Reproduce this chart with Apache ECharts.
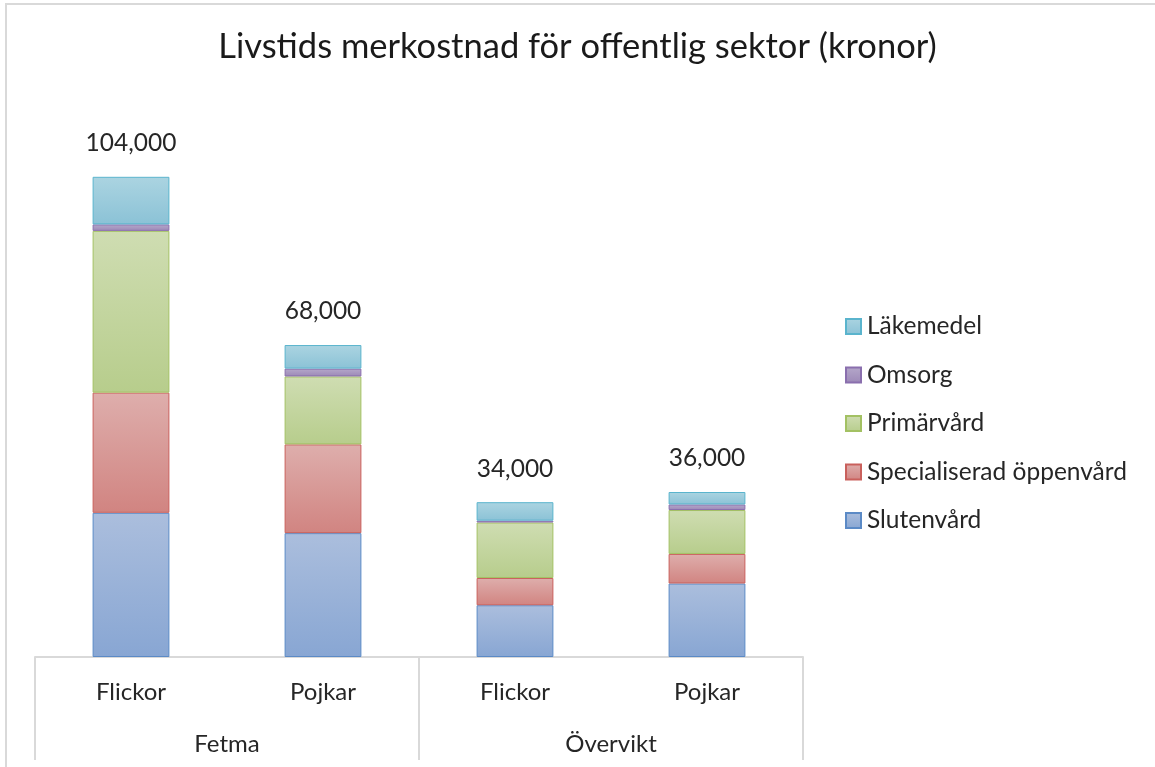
<!DOCTYPE html>
<html>
<head>
<meta charset="utf-8">
<script src="https://cdn.jsdelivr.net/npm/echarts@6/dist/echarts.min.js"></script>
<style>
html,body{margin:0;padding:0;background:#fff;}
#chart{width:1155px;height:767px;position:absolute;left:0;top:0;}
#frame{position:absolute;left:5px;top:3px;right:0;bottom:0;border-top:2px solid #d9d9d9;border-left:2px solid #d9d9d9;pointer-events:none;}
</style>
</head>
<body>
<div id="chart"></div>
<div id="frame"></div>
<script>
// ---- data ----
const categories = ['Flickor', 'Pojkar', 'Flickor', 'Pojkar'];
const groups = ['Fetma', 'Övervikt'];
const slutenvard = [31200, 26800, 11200, 15900];
const specialiserad = [26000, 19200, 5900, 6400];
const primarvard = [35000, 14700, 12000, 9500];
const omsorg = [1400, 1700, 400, 1200];
const lakemedel = [10300, 5100, 4000, 2700];
const totalLabels = [104000, 68000, 34000, 36000];
const seriesNames = ['Slutenvård', 'Specialiserad öppenvård', 'Primärvård', 'Omsorg', 'Läkemedel'];
const legendOrder = ['Läkemedel', 'Omsorg', 'Primärvård', 'Specialiserad öppenvård', 'Slutenvård'];

const FONT = 'Lato';
const styles = [
  {top: '#abbedd', bottom: '#88a6d3', border: '#5b8ac6'},
  {top: '#deaeac', bottom: '#d18481', border: '#c9605c'},
  {top: '#cfddb2', bottom: '#b7cd8c', border: '#a3c163'},
  {top: '#b5a8ca', bottom: '#9c88b7', border: '#8a6fae'},
  {top: '#abd4e1', bottom: '#8bc2d6', border: '#5ab4cd'}
];
const values = [slutenvard, specialiserad, primarvard, omsorg, lakemedel];

function fmt(v){ return v.toString().replace(/\B(?=(\d{3})+(?!\d))/g, ','); }

const series = seriesNames.map((name, i) => {
  const s = {
    name: name,
    type: 'bar',
    stack: 'total',
    barWidth: '40%',
    data: values[i],
    itemStyle: {
      color: new echarts.graphic.LinearGradient(0, 0, 0, 1, [
        {offset: 0, color: styles[i].top},
        {offset: 1, color: styles[i].bottom}
      ]),
      borderColor: styles[i].border,
      borderWidth: 1
    },
    emphasis: {disabled: true}
  };
  if (i === seriesNames.length - 1) {
    s.label = {
      show: true,
      position: 'top',
      distance: 21,
      fontFamily: FONT,
      fontSize: 24.5,
      color: '#262626',
      formatter: p => fmt(totalLabels[p.dataIndex])
    };
  }
  return s;
});

const chart = echarts.init(document.getElementById('chart'), null, {renderer: 'canvas'});
chart.setOption({
  animation: false,
  backgroundColor: '#ffffff',
  title: {
    text: 'Livstids merkostnad för offentlig sektor (kronor)',
    left: 'center',
    top: 29,
    padding: 0,
    textStyle: {fontFamily: FONT, fontSize: 34.5, fontWeight: 'normal', color: '#1a1a1a'}
  },
  legend: {
    orient: 'vertical',
    left: 845,
    top: 314,
    padding: 0,
    itemWidth: 15,
    itemHeight: 15,
    itemGap: 23.5,
    icon: 'rect',
    data: legendOrder,
    textStyle: {fontFamily: FONT, fontSize: 24.5, color: '#262626', padding: [0, 0, 0, 1]}
  },
  grid: {left: 35, right: 352, top: 150, bottom: 110, containLabel: false},
  xAxis: [
    {
      type: 'category',
      data: categories,
      position: 'bottom',
      axisLine: {show: true, lineStyle: {color: '#d9d9d9', width: 2}},
      axisTick: {show: false},
      axisLabel: {fontFamily: FONT, fontSize: 24, color: '#262626', margin: 23, interval: 0}
    },
    {
      type: 'category',
      data: groups,
      position: 'bottom',
      axisLine: {show: false},
      axisTick: {show: true, length: 103, lineStyle: {color: '#d9d9d9', width: 2}},
      axisLabel: {fontFamily: FONT, fontSize: 24, color: '#262626', margin: 75, interval: 0}
    }
  ],
  yAxis: {
    type: 'value',
    min: 0,
    max: 109700,
    show: false,
    splitLine: {show: false}
  },
  series: series
});
</script>
</body>
</html>
